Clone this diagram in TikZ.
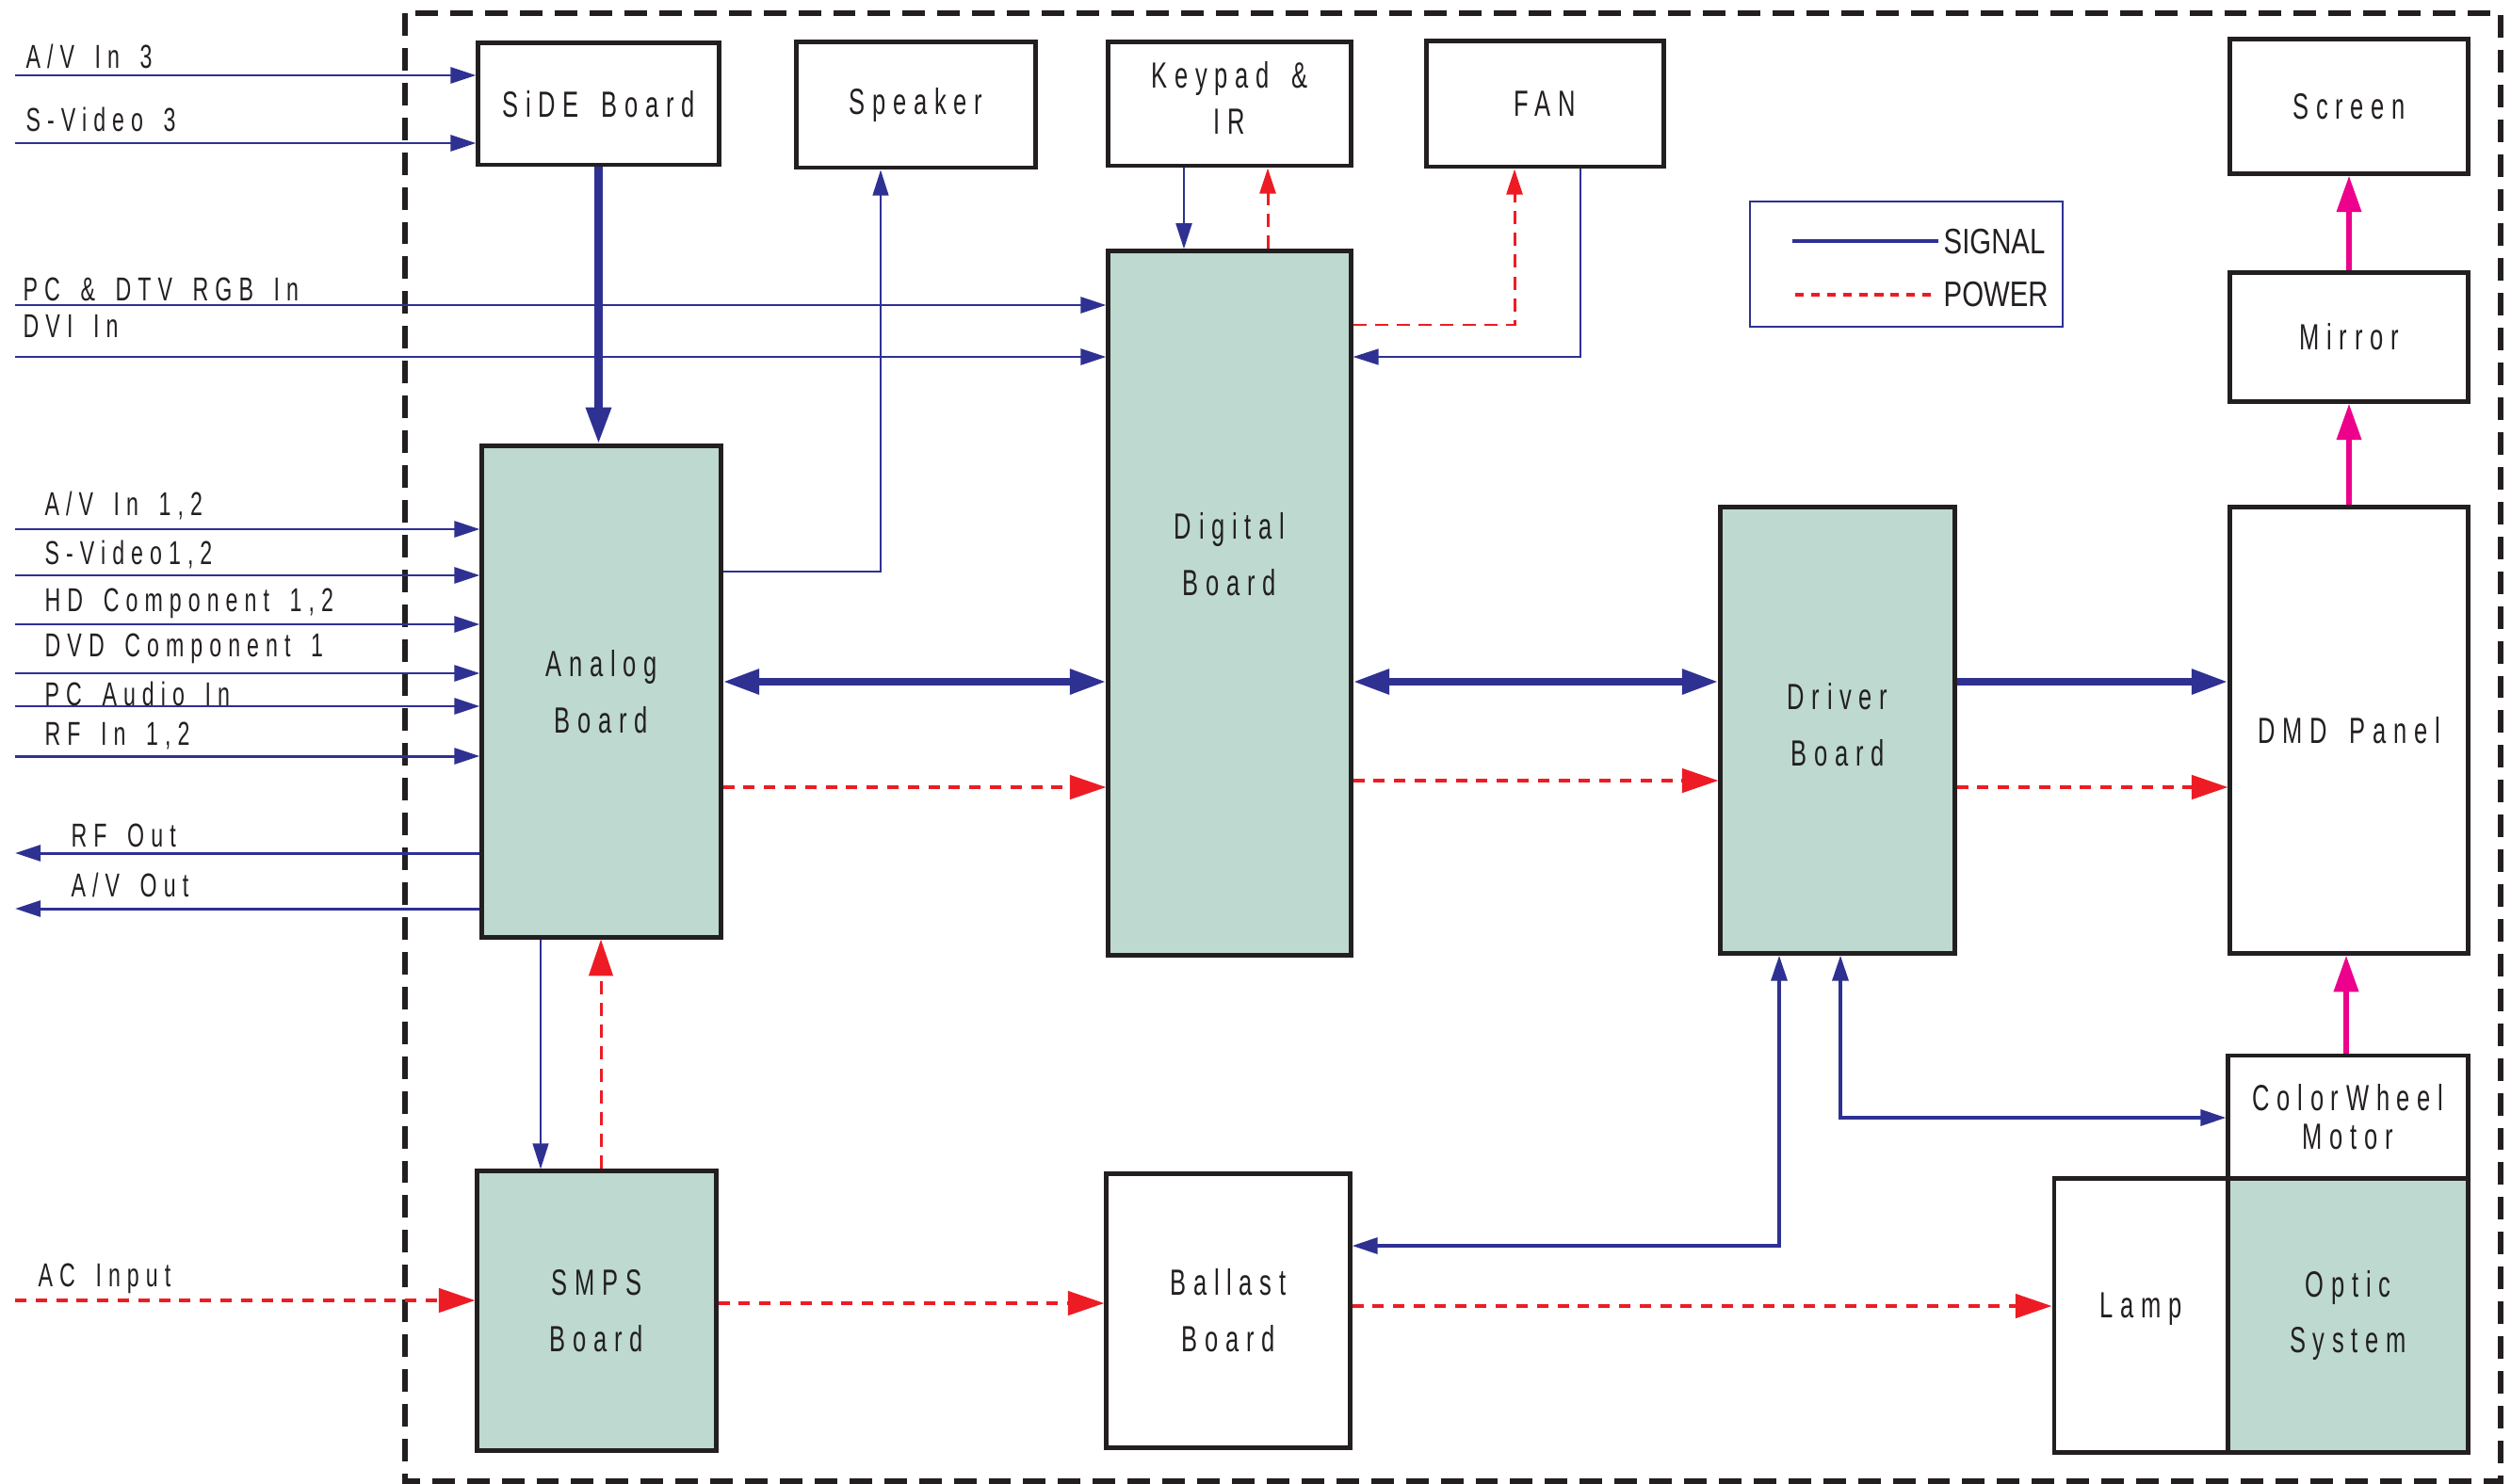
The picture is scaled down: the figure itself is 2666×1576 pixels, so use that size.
\documentclass[tikz,border=0pt]{standalone}
\usepackage{fontspec}
\setmainfont{Liberation Sans}
\newfontfamily\boxfont[FakeStretch=0.66,LetterSpace=20,WordSpace=1.6]{Liberation Sans}
\newfontfamily\legfont[FakeStretch=0.78]{Liberation Sans}
\usetikzlibrary{arrows.meta}
\definecolor{sigb}{RGB}{46,49,146}
\definecolor{pwrr}{RGB}{237,28,36}
\definecolor{magn}{RGB}{236,0,140}
\definecolor{tealf}{RGB}{189,217,208}
\definecolor{boxk}{RGB}{35,31,32}
\tikzset{
  smalltip/.tip={Triangle[length=7.7pt,width=4.8pt]},
  bigtip/.tip={Triangle[length=11pt,width=7.2pt]},
  box/.style={draw=boxk, line width=1.4pt, rectangle, inner sep=0pt, text=boxk, align=center,
    font=\boxfont\fontsize{11}{17}\selectfont},
  fbox/.style={box, fill=tealf},
  btxt/.style={inner sep=0pt, text=boxk, align=center},
  lbl/.style={anchor=base west, inner sep=0pt, text=boxk, font=\boxfont\fontsize{10}{12}\selectfont},
  legtxt/.style={anchor=base west, inner sep=0pt, text=boxk, font=\legfont\fontsize{10.7}{12}\selectfont},
  sig/.style={draw=sigb, line width=0.85pt},
  hairsig/.style={draw=sigb, line width=0.45pt},
  kpsig/.style={draw=sigb, line width=0.65pt},
  medsig/.style={draw=sigb, line width=1.1pt},
  thicksig/.style={draw=sigb, line width=2.3pt},
  pwr/.style={draw=pwrr, line width=1.1pt, dash pattern=on 3.4pt off 2.8pt},
  pwrv/.style={draw=pwrr, line width=0.85pt, dash pattern=on 4pt off 2.6pt},
  magl/.style={draw=magn, line width=1.7pt}
}
\begin{document}
\begin{tikzpicture}[x=0.01cm,y=-0.01cm]
\useasboundingbox (0,0) rectangle (2666,1576);
% outer dashed frame
\draw[boxk, line width=1.56pt, dash pattern=on 6.8pt off 3.7pt] (430,14) rectangle (2655,1573);

% boxes
\node[box, minimum width=2.55cm, minimum height=1.29cm] (side) at (635.5,110.5) {SiDE Board};
\node[box, minimum width=2.53cm, minimum height=1.33cm] (speaker) at (972.5,111.5) {Speaker};
\node[box, minimum width=2.57cm, minimum height=1.31cm] (keypad) at (1305.5,110.5) {};
\node[btxt, font=\boxfont\fontsize{11}{14.2}\selectfont] (kptxt) at (1305.5,104) {Keypad \&\\IR};
\node[box, minimum width=2.51cm, minimum height=1.33cm] (fan) at (1640.5,110.5) {FAN};
\node[box, minimum width=2.52cm, minimum height=1.42cm] (screen) at (2494,113) {Screen};
\node[box, minimum width=2.52cm, minimum height=1.36cm] (mirror) at (2494,358) {Mirror};
\node[fbox, minimum width=2.57cm, minimum height=7.47cm] (digital) at (1305.5,640.5) {};
\node[btxt, font=\boxfont\fontsize{11}{17}\selectfont] (digtxt) at (1305.5,589) {Digital\\Board};
\node[fbox, minimum width=2.53cm, minimum height=5.21cm] (analog) at (638.5,734.5) {Analog\\Board};
\node[fbox, minimum width=2.48cm, minimum height=4.73cm] (driver) at (1951,775.5) {};
\node[btxt, font=\boxfont\fontsize{11}{17}\selectfont] (drvtxt) at (1951,770) {Driver\\Board};
\node[box, minimum width=2.52cm, minimum height=4.73cm] (dmd) at (2494,775.5) {DMD Panel};
\node[box, minimum width=2.54cm, minimum height=1.31cm, font=\boxfont\fontsize{11}{11.7}\selectfont] (cw) at (2493,1186.5) {ColorWheel\\Motor};
\node[box, minimum width=1.85cm, minimum height=2.90cm] (lamp) at (2273.5,1397) {};
\node[btxt, font=\boxfont\fontsize{11}{17}\selectfont] (lamptxt) at (2273.5,1390) {Lamp};
\node[fbox, minimum width=2.54cm, minimum height=2.90cm] (optic) at (2493,1397) {Optic\\System};
\node[fbox, minimum width=2.53cm, minimum height=2.96cm] (smps) at (633.5,1392) {SMPS\\Board};
\node[box, minimum width=2.58cm, minimum height=2.90cm] (ballast) at (1304,1392) {Ballast\\Board};

% legend
\node[draw=sigb, line width=0.45pt, minimum width=3.32cm, minimum height=1.33cm, inner sep=0pt] (legend) at (2024,280.5) {};
\coordinate (lgs1) at (1903,256);
\coordinate (lgs2) at (2058,256);
\draw[sigb, line width=1.35pt] (lgs1) -- (lgs2);
\node[legtxt] (lgsig) at (2063,270) {SIGNAL};
\coordinate (lgp1) at (1906,313);
\coordinate (lgp2) at (2052,313);
\draw[draw=pwrr, line width=1.1pt, dash pattern=on 2.6pt off 2.2pt] (lgp1) -- (lgp2);
\node[legtxt] (lgpow) at (2063,325) {POWER};

% input labels
\node[lbl] (lAV3) at (27,73) {A/V In 3};
\node[lbl] (lSV3) at (27,140) {S-Video 3};
\node[lbl] (lPC) at (24,319) {PC \& DTV RGB In};
\node[lbl] (lDVI) at (24,358) {DVI In};
\node[lbl] (lAV12) at (47,547) {A/V In 1,2};
\node[lbl] (lSV12) at (47,599) {S-Video1,2};
\node[lbl] (lHD) at (47,649) {HD Component 1,2};
\node[lbl] (lDVD) at (47,697) {DVD Component 1};
\node[lbl] (lPCA) at (47,749) {PC Audio In};
\node[lbl] (lRF) at (47,791) {RF In 1,2};
\node[lbl] (lRFo) at (75,899) {RF Out};
\node[lbl] (lAVo) at (75,952) {A/V Out};
\node[lbl] (lAC) at (40,1366) {AC Input};

% input coordinates
\coordinate (iAV3) at (16,80);
\coordinate (iSV3) at (16,152);
\coordinate (iPC) at (16,324);
\coordinate (iDVI) at (16,379);
\coordinate (iAV12) at (16,562);
\coordinate (iSV12) at (16,611);
\coordinate (iHD) at (16,663);
\coordinate (iDVD) at (16,715);
\coordinate (iPCA) at (16,750);
\coordinate (iRF) at (16,803);
\coordinate (oRF) at (16,906);
\coordinate (oAV) at (16,965);
\coordinate (acin) at (16,1381);

\draw[sig,-smalltip] (iAV3) -- (iAV3 -| side.west);
\draw[sig,-smalltip] (iSV3) -- (iSV3 -| side.west);
\draw[sig,-smalltip] (iPC) -- (iPC -| digital.west);
\draw[sig,-smalltip] (iDVI) -- (iDVI -| digital.west);
\draw[sig,-smalltip] (iAV12) -- (iAV12 -| analog.west);
\draw[sig,-smalltip] (iSV12) -- (iSV12 -| analog.west);
\draw[sig,-smalltip] (iHD) -- (iHD -| analog.west);
\draw[sig,-smalltip] (iDVD) -- (iDVD -| analog.west);
\draw[sig,-smalltip] (iPCA) -- (iPCA -| analog.west);
\draw[sig,-smalltip] (iRF) -- (iRF -| analog.west);
\draw[sig,-smalltip] (oRF -| analog.west) -- (oRF);
\draw[sig,-smalltip] (oAV -| analog.west) -- (oAV);

% SiDE -> Analog
\draw[thicksig,-bigtip] (side.south) -- (analog.north -| side.south);

% buses
\coordinate (bus) at (0,724);
\coordinate (p1) at (0,836);
\coordinate (p2) at (0,829);
\draw[thicksig,bigtip-bigtip] (analog.east |- bus) -- (digital.west |- bus);
\draw[thicksig,bigtip-bigtip] (digital.east |- bus) -- (driver.west |- bus);
\draw[thicksig,-bigtip] (driver.east |- bus) -- (dmd.west |- bus);
\draw[pwr,-bigtip] (analog.east |- p1) -- (digital.west |- p1);
\draw[pwr,-bigtip] (digital.east |- p2) -- (driver.west |- p2);
\draw[pwr,-bigtip] (driver.east |- p1) -- (dmd.west |- p1);

% speaker
\coordinate (spk) at (935,607);
\draw[hairsig,-smalltip] (analog.east |- spk) -- (spk) -- (spk |- speaker.south);

% keypad
\coordinate (kps) at (1257,0);
\coordinate (kpp) at (1346,0);
\draw[kpsig,-smalltip] (keypad.south -| kps) -- (digital.north -| kps);
\draw[pwrv,-smalltip] (digital.north -| kpp) -- (keypad.south -| kpp);

% fan
\coordinate (fanp) at (1608,345);
\coordinate (fans) at (1678,379);
\draw[pwrv,-smalltip] (digital.east |- fanp) -- (fanp) -- (fanp |- fan.south);
\draw[hairsig,-smalltip] (fans |- fan.south) -- (fans) -- (fans -| digital.east);

% analog - smps
\coordinate (as) at (574,0);
\coordinate (ap) at (638,0);
\draw[hairsig,-smalltip] (analog.south -| as) -- (smps.north -| as);
\draw[pwrv,-bigtip] (smps.north -| ap) -- (analog.south -| ap);

% power chain
\coordinate (sb) at (0,1384);
\coordinate (bl) at (0,1387);
\draw[pwr,-bigtip] (acin) -- (acin -| smps.west);
\draw[pwr,-bigtip] (smps.east |- sb) -- (ballast.west |- sb);
\draw[pwr,-bigtip] (ballast.east |- bl) -- (lamp.west |- bl);

% driver links
\coordinate (db) at (1889,1323);
\coordinate (dc) at (1954,1187);
\draw[medsig,smalltip-smalltip] (ballast.east |- db) -- (db) -- (db |- driver.south);
\draw[medsig,smalltip-smalltip] (driver.south -| dc) -- (dc) -- (dc -| cw.west);

% optical path
\coordinate (dmx) at (2491,0);
\coordinate (mx) at (2494,0);
\draw[magl,-bigtip] (cw.north -| dmx) -- (dmd.south -| dmx);
\draw[magl,-bigtip] (dmd.north -| mx) -- (mirror.south -| mx);
\draw[magl,-bigtip] (mirror.north -| mx) -- (screen.south -| mx);
\end{tikzpicture}
\end{document}
